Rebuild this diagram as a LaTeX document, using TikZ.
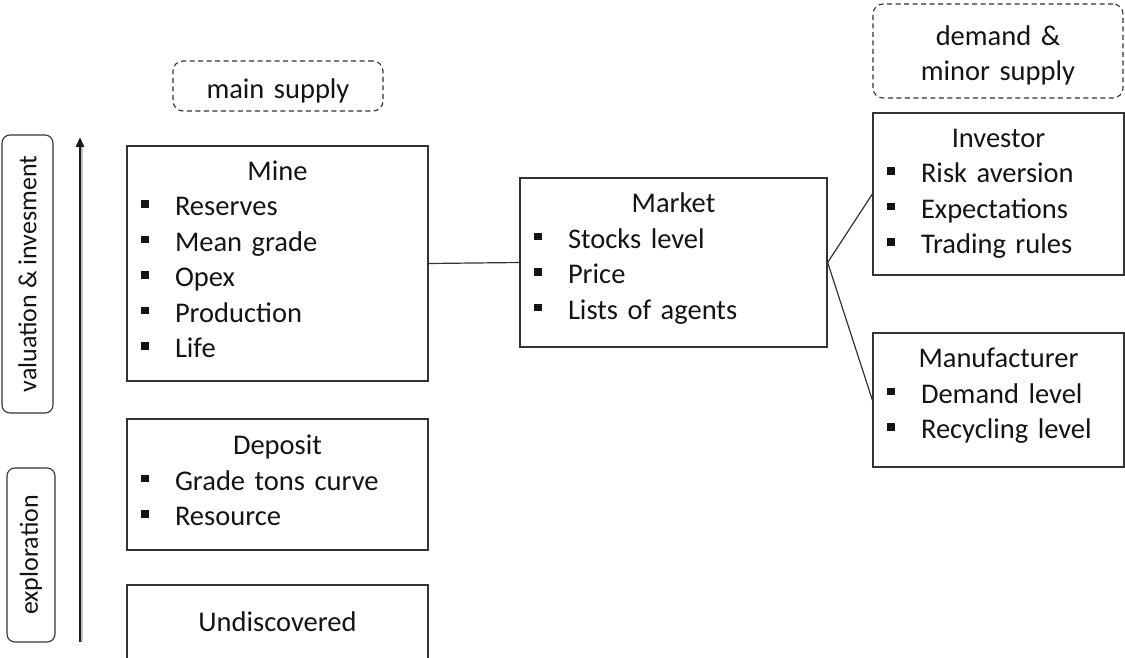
\documentclass[tikz,border=0pt]{standalone}
\usepackage{fontspec}
\setmainfont{Carlito}
\usetikzlibrary{arrows.meta}

% square bullet followed by the item text
\newcommand{\bul}[1]{\makebox[34pt][l]{\raisebox{8pt}{\rule{7.5pt}{7.5pt}}}#1}
% heading line centred across the box
\newcommand{\ttl}[1]{\makebox[\linewidth]{#1}}
% extra space below the last line (lifts the text block a little)
\newcommand{\lift}{\par\vspace{8pt}\hrule height 0pt}
% extra space above the first line (lowers the text block a little)
\newcommand{\drop}{\hrule height 0pt\vspace{9pt}}

\tikzset{
  panel/.style={draw=black!80, line width=1.3pt, rectangle, inner xsep=14pt,
    inner ysep=0pt, align=left, text=black!92,
    font=\fontsize{28.5}{35.5}\selectfont},
  tag/.style={draw=black!80, line width=1.1pt, dash pattern=on 5pt off 3.5pt,
    rounded corners=10pt, rectangle, align=center, text=black!92, inner sep=0pt,
    font=\fontsize{28.5}{35}\selectfont},
  phase/.style={draw=black!80, line width=1.1pt, rounded corners=8pt, rectangle,
    rotate=90, inner sep=0pt, text=black!92, font=\fontsize{26}{30}\selectfont},
  link/.style={draw=black!80, line width=1.2pt}
}

\begin{document}
\begin{tikzpicture}[x=1pt, y=-1pt]
  \useasboundingbox (0,0) rectangle (1125,658);
  \clip (0,0) rectangle (1125,658);

  % phase labels and the progression arrow (with a soft shadow on its right)
  \node[phase, minimum width=278pt, minimum height=51pt] (val) at (27.5,274) {valuation \& invesment};
  \node[phase, minimum width=174pt, minimum height=48pt] (expl) at (31,555) {exploration};
  \coordinate (arrlow) at (80,642);
  \coordinate (arrhigh) at (80,137);
  \draw[black!25, line width=2pt] ([xshift=2.2pt]arrlow) -- ([xshift=2.2pt, yshift=-10pt]arrhigh);
  \draw[black!90, line width=2.5pt, -{Triangle[length=10pt,width=8pt]}] (arrlow) -- (arrhigh);

  % supply side
  \node[tag, minimum width=210pt, minimum height=50pt, text width=210pt] (mainsup) at (278,86)
    {\drop main supply};
  \node[panel, text width=273pt, minimum height=235pt] (mine) at (277.5,263.5)
    {\ttl{Mine}\\ \bul{Reserves}\\ \bul{Mean grade}\\ \bul{Opex}\\ \bul{Production}\\ \bul{Life}\lift};
  \node[panel, text width=273pt, minimum height=131pt] (deposit) at (277.5,484.5)
    {\ttl{Deposit}\\ \bul{Grade tons curve}\\ \bul{Resource}\lift};
  \node[panel, text width=273pt, minimum height=82pt] (undisc) at (277.5,626)
    {\ttl{Undiscovered}\lift};

  % market
  \node[panel, text width=279pt, minimum height=169pt] (market) at (673.5,262.5)
    {\ttl{Market}\\ \bul{Stocks level}\\ \bul{Price}\\ \bul{Lists of agents}\lift};

  % demand side
  \node[tag, minimum width=250pt, minimum height=94pt, text width=250pt] (demsup) at (998,51)
    {\drop demand \&\\ minor supply};
  \node[panel, text width=223pt, minimum height=162pt] (investor) at (998.5,194)
    {\ttl{Investor}\\ \bul{Risk aversion}\\ \bul{Expectations}\\ \bul{Trading rules}};
  \node[panel, text width=223pt, minimum height=134pt] (manuf) at (998.5,400)
    {\ttl{Manufacturer}\\ \bul{Demand level}\\ \bul{Recycling level}\lift};

  % connections
  \draw[link] (mine.east) -- (market.west);
  \draw[link] (market.east) -- (investor.west);
  \draw[link] (market.east) -- (manuf.west);
\end{tikzpicture}
\end{document}
